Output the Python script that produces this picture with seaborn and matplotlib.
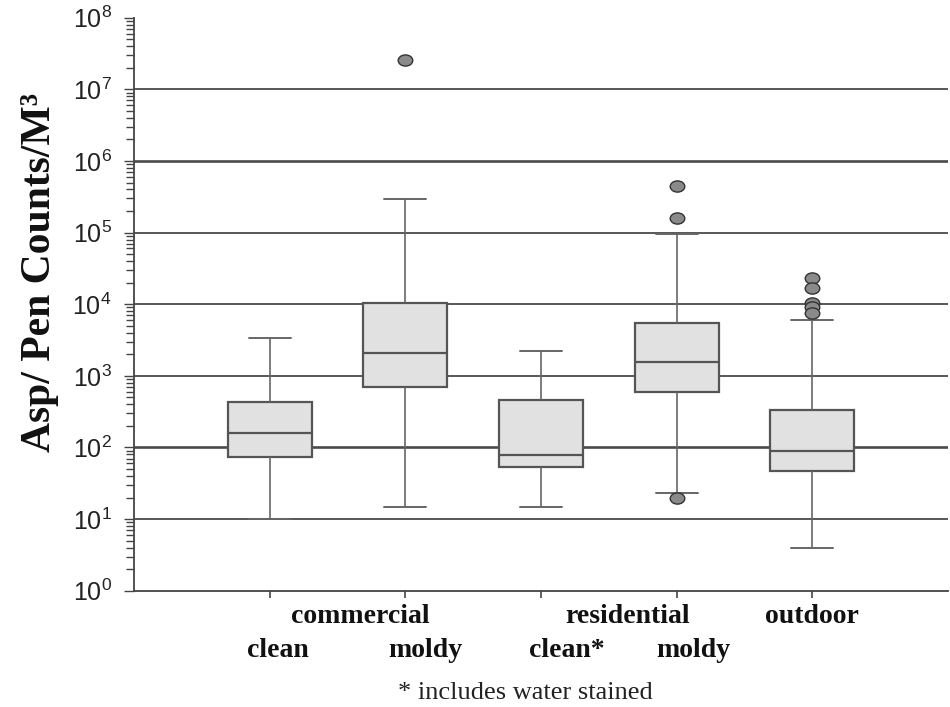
import numpy as np
import pandas as pd
import matplotlib
matplotlib.use("Agg")
import matplotlib.pyplot as plt
from matplotlib.path import Path
from matplotlib.transforms import Affine2D
import seaborn as sns

# ---- data ----
categories = ["commercial clean", "commercial moldy", "residential clean*",
              "residential moldy", "outdoor"]
whisker_low = [10, 14.6, 14.6, 23, 3.9]
q1 = [74, 705, 53, 589, 47]
median = [157, 2100, 78, 1570, 90]
q3 = [435, 10500, 460, 5400, 333]
whisker_high = [3400, 297000, 2200, 95000, 6000]

outlier_cat = ["commercial moldy", "residential moldy", "residential moldy",
               "residential moldy", "outdoor", "outdoor", "outdoor", "outdoor", "outdoor"]
outlier_val = [2.6e7, 4.5e5, 1.6e5, 19.5, 23000, 16700, 10300, 9000, 7460]

group_labels = ["commercial", "residential", "outdoor"]
group_label_x = [0.67, 2.64, 4.0]
sub_labels = ["clean", "moldy", "clean*", "moldy"]
sub_label_x = [0.06, 1.15, 2.19, 3.12]
footnote = "* includes water stained"
ylabel = "Asp/ Pen Counts/M³"
decades = [1, 2, 3, 4, 5, 6, 7]

# five-number summary as long-form table (whiskers span min..max)
rows = []
for c, a, b, m, d, e in zip(categories, whisker_low, q1, median, q3, whisker_high):
    for v in (a, b, m, d, e):
        rows.append({"cat": c, "val": v})
df = pd.DataFrame(rows)
out_df = pd.DataFrame({"cat": outlier_cat, "val": outlier_val})

sns.set_style("ticks")
plt.rcParams["font.family"] = ["Liberation Sans", "DejaVu Sans"]

fig = plt.figure(figsize=(9.5, 7.07), dpi=100)
ax = fig.add_axes([134 / 950, (707 - 590.7) / 707, 814 / 950, (590.7 - 17.7) / 707])

edge = "#555555"
sns.boxplot(data=df, x="cat", y="val", order=categories, whis=np.inf,
            width=0.62, log_scale=True, color="#e1e1e1", linecolor=edge,
            linewidth=1.4, ax=ax,
            boxprops=dict(facecolor="#e1e1e1", edgecolor=edge, linewidth=1.6),
            medianprops=dict(color=edge, linewidth=1.6),
            whiskerprops=dict(color="#666666", linewidth=1.2),
            capprops=dict(color="#666666", linewidth=1.4))

ell = Path.unit_circle().transformed(Affine2D().scale(1.3, 1.0))
sns.scatterplot(data=out_df, x="cat", y="val", marker=ell, s=110,
                color="#8a8a8a", edgecolor="#333333", linewidth=1.0,
                ax=ax, zorder=5, legend=False)

for d in decades:
    lw = 1.9 if d in (2, 6) else 1.3
    ax.axhline(10.0 ** d, color="#4a4a4a", linewidth=lw, zorder=0)

ax.set_yscale("log")
ax.set_ylim(1, 1e8)
ax.set_xlim(-1, 5)
ax.set_xlabel("")
ax.set_ylabel("")
ax.set_xticks(range(len(categories)))
ax.set_xticklabels([])
ax.yaxis.set_major_locator(matplotlib.ticker.LogLocator(base=10, numticks=12))
ax.yaxis.set_minor_locator(matplotlib.ticker.LogLocator(base=10, subs=np.arange(2, 10), numticks=12))
ax.tick_params(axis="y", which="major", length=7, width=1.0, color="#444444",
               labelsize=18, pad=9, labelcolor="#222222")
ax.tick_params(axis="y", which="minor", length=6, width=1.0, color="#444444")
ax.tick_params(axis="x", which="major", length=5, width=1.2, color="#444444")
for s in ("top", "right"):
    ax.spines[s].set_visible(False)
for s in ("left", "bottom"):
    ax.spines[s].set_color("#444444")
    ax.spines[s].set_linewidth(1.3)

trans = matplotlib.transforms.blended_transform_factory(ax.transData, fig.transFigure)
serif = ["Liberation Serif", "DejaVu Serif"]
for lab, x in zip(group_labels, group_label_x):
    ax.text(x, 1 - 623 / 707, lab, transform=trans, ha="center", va="baseline",
            fontsize=20, fontweight="bold", family=serif, color="#111111")
for lab, x in zip(sub_labels, sub_label_x):
    ax.text(x, 1 - 657 / 707, lab, transform=trans, ha="center", va="baseline",
            fontsize=20, fontweight="bold", family=serif, color="#111111")
fig.text(525 / 950, 1 - 699 / 707, footnote, ha="center", va="baseline",
         fontsize=19, family=serif, color="#222222")
fig.text(40 / 950, 1 - 272 / 707, ylabel, rotation=90, ha="center", va="center",
         fontsize=30, fontweight="bold", family=serif, color="#111111")

fig.savefig("out.png", dpi=100)
